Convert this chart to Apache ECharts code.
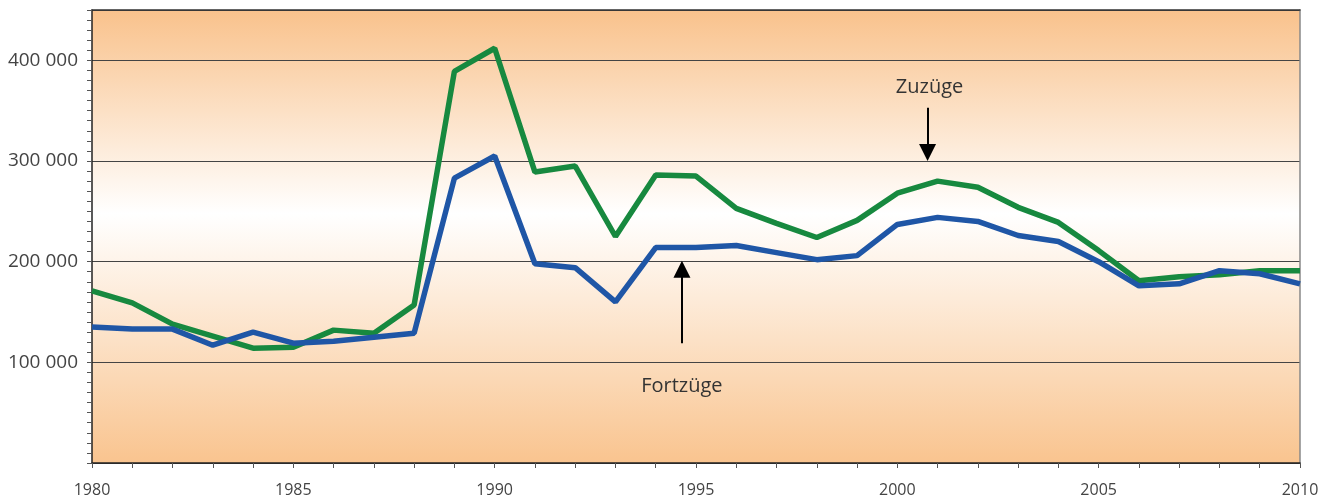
<!DOCTYPE html>
<html>
<head>
<meta charset="utf-8">
<script src="https://cdn.jsdelivr.net/npm/echarts@6/dist/echarts.min.js"></script>
<style>
html,body{margin:0;padding:0;background:#fff;}
#chart{width:1329px;height:498px;}
</style>
</head>
<body>
<div id="chart"></div>
<script>
var years = [1980,1981,1982,1983,1984,1985,1986,1987,1988,1989,1990,1991,1992,1993,1994,1995,1996,1997,1998,1999,2000,2001,2002,2003,2004,2005,2006,2007,2008,2009,2010];
var zuzuege = [171000,159000,138000,126000,114000,115000,132000,129000,157000,389000,412000,289000,295000,225000,286000,285000,253000,238000,224000,241000,268000,280000,274000,254000,239000,211000,181000,185000,187000,191000,191000];
var fortzuege = [135000,133000,133000,117000,130000,119000,121000,125000,129000,283000,305000,198000,194000,160000,214000,214000,216000,209000,202000,206000,237000,244000,240000,226000,220000,200000,176000,178000,191000,188000,178000];
var yTicks = [100000,200000,300000,400000];
var xLabelYears = [1980,1985,1990,1995,2000,2005,2010];
// annotations in data units
var labelZu = {text:'Zuzüge', x:2000.8, y:373000};
var arrowZu = {x:2000.75, from:353000, to:308500};
var labelFort = {text:'Fortzüge', x:1994.65, y:76500};
var arrowFort = {x:1994.65, from:119000, to:192500};

function fmt(v){ return String(v).replace(/\B(?=(\d{3})+(?!\d))/g,' '); }

var chart = echarts.init(document.getElementById('chart'), null, {renderer:'canvas'});
var FONT = '"Open Sans", "DejaVu Sans", sans-serif';
var option = {
  animation:false,
  grid:{left:92,right:29,top:10,bottom:35,show:true,borderWidth:0,
    backgroundColor:{type:'linear',x:0,y:0,x2:0,y2:1,colorStops:[
      {offset:0,color:'#F9C28C'},{offset:0.45,color:'#FFFFFF'},{offset:1,color:'#F9C48F'}]}},
  xAxis:[
    {type:'value',min:1980,max:2010,interval:1,position:'bottom',
     axisLine:{show:true,lineStyle:{color:'#222',width:1.5}},
     axisTick:{show:true,length:5,lineStyle:{color:'#555',width:1}},
     axisLabel:{margin:19,fontSize:16,fontFamily:FONT,color:'#444',
       formatter:function(v){return xLabelYears.indexOf(v)>=0?String(v):'';}},
     splitLine:{show:false}},
    {type:'value',min:1980,max:2010,position:'top',
     axisLine:{show:true,onZero:false,lineStyle:{color:'#333',width:1.5}},
     axisTick:{show:false},axisLabel:{show:false},splitLine:{show:false}}
  ],
  yAxis:[
    {type:'value',min:0,max:450000,interval:100000,position:'left',
     axisLine:{show:true,onZero:false,lineStyle:{color:'#222',width:1.5}},
     axisTick:{show:false},
     axisLabel:{margin:14,fontSize:19,fontFamily:FONT,color:'#444',
       formatter:function(v){return yTicks.indexOf(v)>=0?fmt(v):'';}},
     splitLine:{show:true,lineStyle:{color:'#444',width:1}}},
    {type:'value',min:0,max:450000,interval:10000,position:'left',
     axisLine:{show:false},
     axisTick:{show:true,length:5,lineStyle:{color:'#555',width:1}},
     axisLabel:{show:false},splitLine:{show:false}},
    {type:'value',min:0,max:450000,position:'right',
     axisLine:{show:true,onZero:false,lineStyle:{color:'#888',width:1.5}},
     axisTick:{show:false},axisLabel:{show:false},splitLine:{show:false}}
  ],
  series:[
    {name:'Zuzüge',type:'line',xAxisIndex:0,yAxisIndex:0,
     data:years.map(function(y,i){return [y,zuzuege[i]];}),
     symbol:'none',lineStyle:{color:'#17893F',width:5.5},itemStyle:{color:'#17893F'},z:3,
     markLine:{silent:true,symbol:['none','triangle'],symbolSize:[17,17],
       lineStyle:{color:'#000',width:2,type:'solid'},label:{show:false},
       data:[[{coord:[arrowZu.x,arrowZu.from]},{coord:[arrowZu.x,arrowZu.to]}]]},
     markPoint:{silent:true,symbol:'circle',symbolSize:1,itemStyle:{color:'rgba(0,0,0,0)'},
       label:{show:true,position:'inside',fontSize:20,fontFamily:FONT,color:'#333',formatter:function(p){return p.name;}},
       data:[{name:labelZu.text,coord:[labelZu.x,labelZu.y]}]}
    },
    {name:'Fortzüge',type:'line',xAxisIndex:0,yAxisIndex:0,
     data:years.map(function(y,i){return [y,fortzuege[i]];}),
     symbol:'none',lineStyle:{color:'#1F56A6',width:5.5},itemStyle:{color:'#1F56A6'},z:4,
     markLine:{silent:true,symbol:['none','triangle'],symbolSize:[17,17],
       lineStyle:{color:'#000',width:2,type:'solid'},label:{show:false},
       data:[[{coord:[arrowFort.x,arrowFort.from]},{coord:[arrowFort.x,arrowFort.to]}]]},
     markPoint:{silent:true,symbol:'circle',symbolSize:1,itemStyle:{color:'rgba(0,0,0,0)'},
       label:{show:true,position:'inside',fontSize:20,fontFamily:FONT,color:'#333',formatter:function(p){return p.name;}},
       data:[{name:labelFort.text,coord:[labelFort.x,labelFort.y]}]}
    }
  ]
};
chart.setOption(option);
</script>
</body>
</html>
